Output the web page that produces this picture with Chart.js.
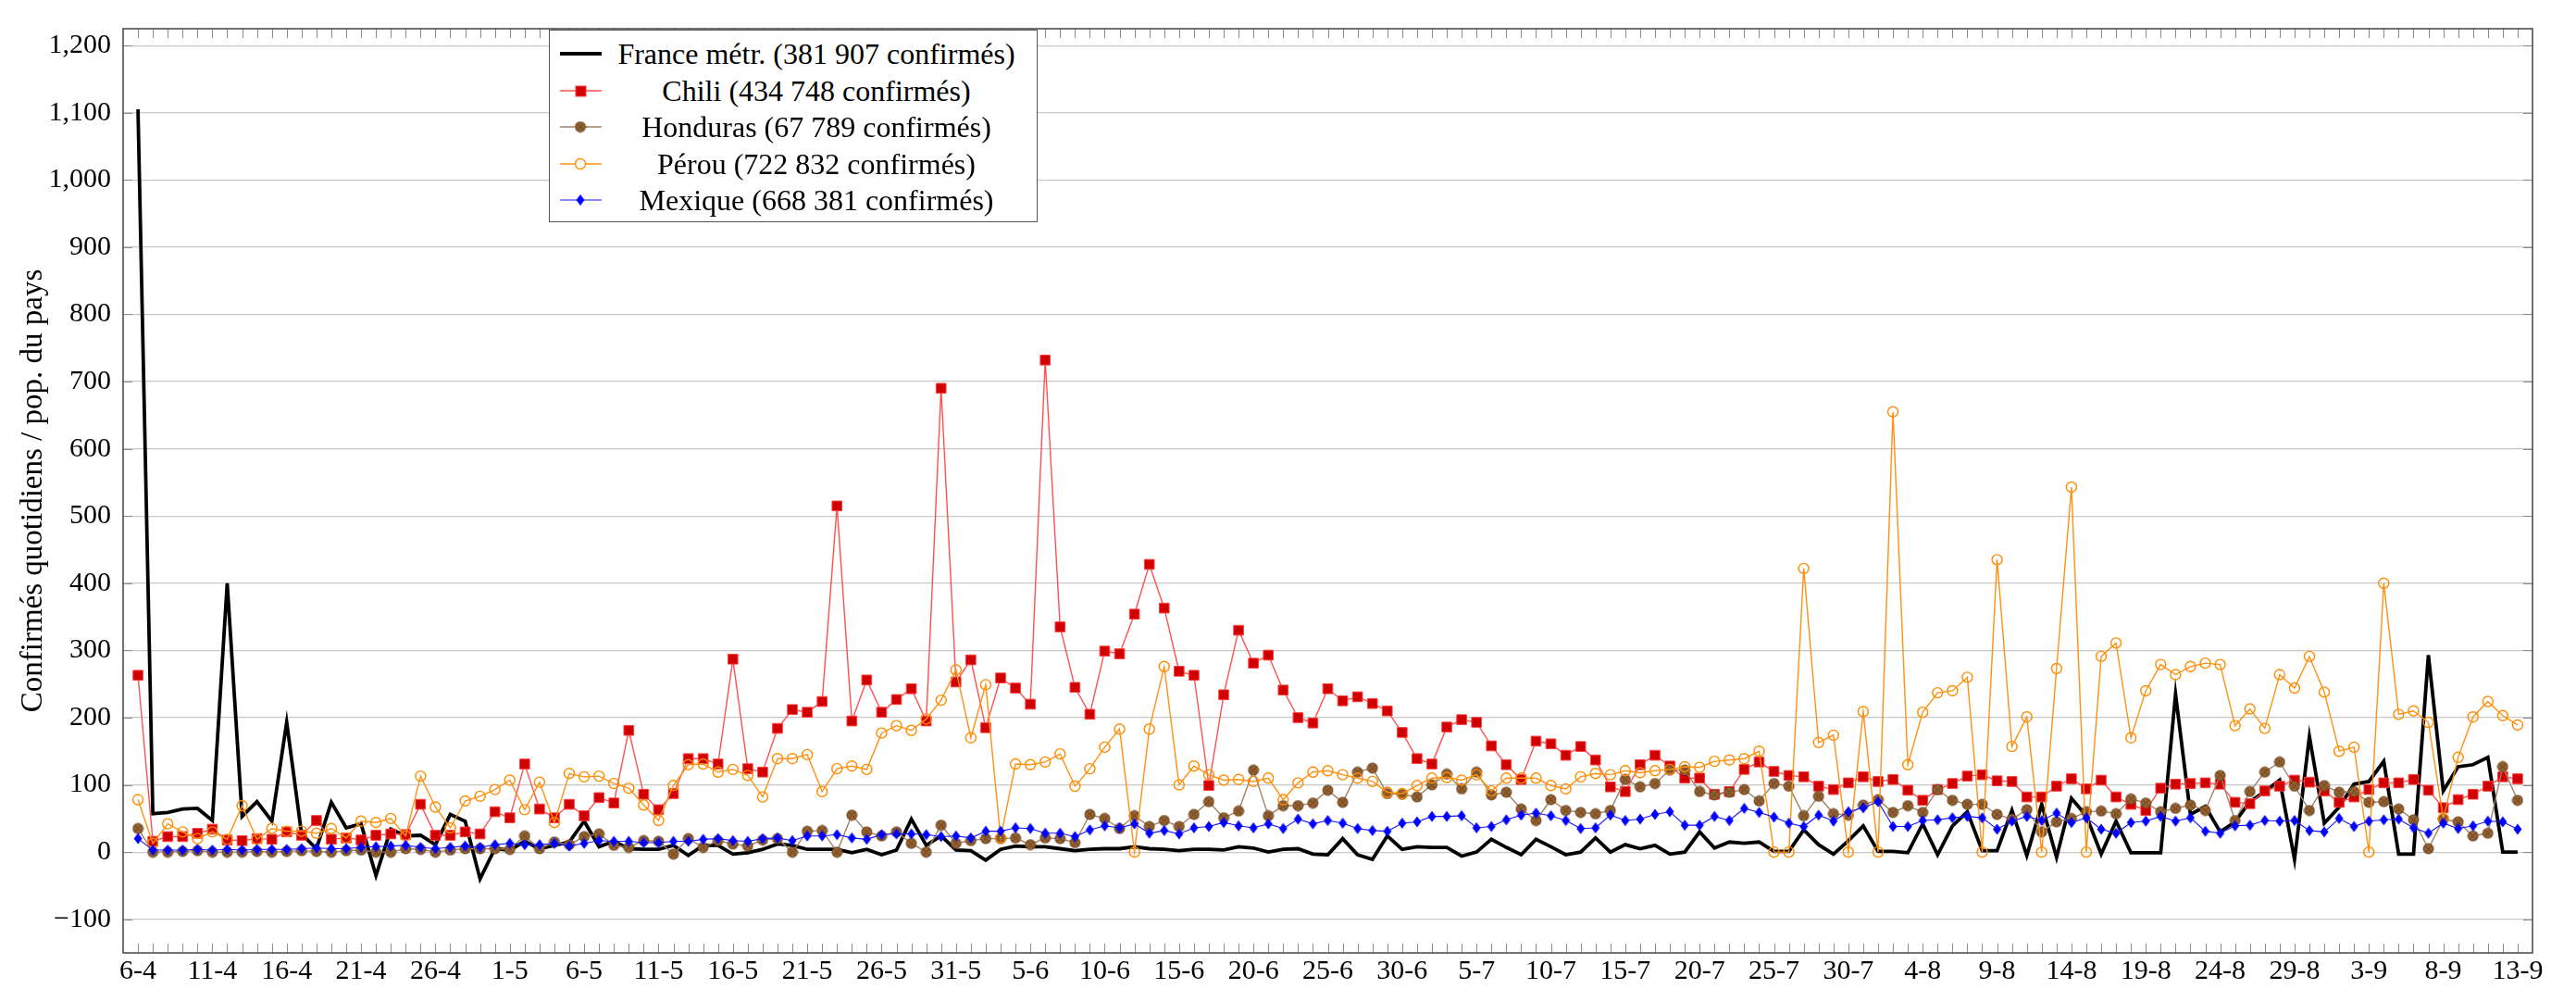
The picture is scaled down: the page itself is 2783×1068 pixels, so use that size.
<!DOCTYPE html>
<html>
<head>
<meta charset="utf-8">
<script src="https://cdn.jsdelivr.net/npm/chart.js@4.4.0/dist/chart.umd.min.js"></script>
<style>
  body { margin: 0; background: #fff; }
  #wrap { position: relative; width: 2783px; height: 1068px; }
  #legend {
    position: absolute; left: 593px; top: 32px; width: 526px; height: 206px;
    border: 1.5px solid #555; background: #fff;
    font-family: 'Liberation Serif', serif; font-size: 32px; color: #000;
  }
  .row { position: absolute; left: 0; width: 100%; height: 40px; }
  .row canvas { position: absolute; left: 8px; top: 0; }
  .row span { position: absolute; left: 60px; right: 10px; text-align: center; line-height: 40px; white-space: nowrap; }
</style>
</head>
<body>
<div id="wrap">
  <canvas id="chart" width="2783" height="1068"></canvas>
  <div id="legend"></div>
</div>
<script>
// tick labels, one every 5 days starting 6 April
const tickLabels = ['6-4', '11-4', '16-4', '21-4', '26-4', '1-5', '6-5', '11-5', '16-5', '21-5',
  '26-5', '31-5', '5-6', '10-6', '15-6', '20-6', '25-6', '30-6', '5-7', '10-7',
  '15-7', '20-7', '25-7', '30-7', '4-8', '9-8', '14-8', '19-8', '24-8', '29-8',
  '3-9', '8-9', '13-9'];

// y tick values
const yTicks = [-100, 0, 100, 200, 300, 400, 500, 600, 700, 800, 900, 1000, 1100, 1200];

// daily values, 6-4 .. 13-9 (161 days)
const france = [
  1105, 57, 59, 64, 65, 47, 400, 53, 75, 46,
  193, 27, 5, 74, 36, 42, -35, 34, 24, 25,
  11, 56, 46, -40, 5, 3, 16, 5, 10, 15,
  46, 8, 16, 5, 4, 4, 10, -5, 10, 10,
  -3, -1, 4, 12, 10, 4, 4, 4, -1, 4,
  -4, 3, 49, 10, 24, 3, 2, -12, 4, 9,
  8, 8, 5, 2, 4, 5, 5, 8, 5, 4,
  2, 4, 4, 3, 8, 6, 0, 4, 5, -3,
  -4, 20, -4, -11, 24, 4, 8, 7, 7, -6,
  0, 19, 7, -4, 19, 8, -4, 0, 21, 0,
  11, 5, 10, -3, 0, 30, 6, 15, 13, 15,
  1, 1, 33, 11, -3, 17, 39, 1, 1, -1,
  42, -4, 39, 60, 2, 2, 62, -5, 71, -8,
  80, 54, -3, 46, -1, -1, -1, 235, 56, 68,
  30, 45, 75, 90, 107, -11, 172, 43, 67, 101,
  105, 135, -3, -3, 293, 91, 127, 130, 141, 0,
  0];

const chili = [
  263, 16, 23, 23, 28, 34, 18, 17, 20, 19,
  30, 25, 47, 19, 21, 18, 25, 27, 26, 71,
  25, 25, 30, 27, 60, 51, 131, 64, 51, 71,
  54, 81, 73, 181, 86, 63, 87, 139, 139, 131,
  287, 124, 119, 184, 212, 208, 224, 515, 195, 256,
  208, 227, 243, 195, 690, 253, 286, 185, 259, 244,
  220, 732, 335, 245, 205, 299, 295, 354, 428, 363,
  269, 263, 99, 234, 330, 281, 293, 241, 200, 192,
  243, 225, 231, 221, 210, 178, 139, 131, 186, 197,
  193, 158, 130, 108, 165, 161, 144, 157, 137, 97,
  90, 130, 144, 128, 110, 110, 86, 90, 123, 134,
  120, 114, 112, 98, 93, 103, 112, 105, 108, 92,
  77, 93, 102, 113, 115, 106, 105, 82, 82, 98,
  109, 94, 107, 82, 71, 62, 95, 101, 102, 103,
  101, 74, 72, 91, 98, 107, 104, 91, 74, 82,
  93, 103, 103, 108, 92, 66, 78, 86, 98, 112,
  109];

const honduras = [
  35, 0, 0, 1, 2, 0, 0, 0, 1, 0,
  1, 2, 1, 0, 2, 3, 0, 0, 5, 4,
  0, 3, 5, 5, 5, 4, 24, 5, 15, 11,
  23, 27, 10, 7, 17, 16, -3, 20, 7, 17,
  12, 9, 18, 20, 0, 31, 32, 0, 55, 30,
  24, 30, 13, 0, 40, 13, 17, 20, 20, 21,
  11, 21, 20, 14, 56, 50, 35, 54, 38, 47,
  38, 56, 75, 51, 61, 122, 54, 69, 69, 73,
  92, 74, 119, 125, 87, 86, 82, 100, 116, 94,
  119, 85, 89, 64, 47, 78, 62, 59, 57, 62,
  108, 97, 102, 122, 122, 90, 85, 89, 93, 76,
  102, 98, 54, 83, 57, 55, 70, 78, 59, 69,
  59, 93, 77, 71, 71, 56, 49, 63, 30, 45,
  50, 60, 61, 57, 79, 73, 60, 65, 70, 62,
  114, 47, 90, 119, 134, 98, 62, 99, 89, 90,
  74, 75, 64, 48, 5, 49, 45, 24, 28, 127,
  77];

const perou = [
  78, 13, 42, 30, 20, 30, 19, 69, 19, 35,
  31, 31, 28, 35, 21, 46, 44, 50, 24, 113,
  67, 36, 76, 83, 93, 107, 63, 104, 44, 117,
  112, 113, 102, 95, 70, 47, 99, 130, 131, 119,
  123, 114, 82, 139, 139, 145, 90, 124, 128, 123,
  177, 188, 181, 198, 226, 271, 170, 249, 21, 131,
  130, 134, 146, 98, 124, 156, 183, 0, 183, 276,
  100, 128, 115, 107, 108, 105, 110, 78, 103, 119,
  121, 115, 110, 105, 89, 87, 99, 110, 111, 107,
  115, 91, 110, 110, 110, 99, 94, 112, 117, 115,
  121, 118, 121, 123, 127, 126, 135, 137, 139, 150,
  0, 0, 422, 163, 174, 0, 209, 0, 655, 130,
  208, 237, 240, 260, 0, 435, 157, 201, 0, 273,
  543, 0, 291, 311, 170, 240, 279, 264, 276, 281,
  279, 188, 213, 184, 264, 244, 291, 238, 150, 156,
  0, 400, 205, 210, 193, 50, 141, 201, 224, 203,
  189];

const mexique = [
  20, 3, 3, 3, 4, 3, 4, 3, 4, 4,
  4, 5, 6, 5, 5, 7, 8, 9, 10, 7,
  5, 7, 9, 7, 11, 13, 11, 11, 13, 9,
  13, 17, 16, 16, 14, 14, 16, 16, 19, 20,
  17, 16, 20, 21, 17, 24, 24, 26, 21, 19,
  26, 27, 27, 26, 23, 24, 21, 31, 31, 36,
  35, 28, 28, 23, 33, 39, 36, 42, 28, 32,
  27, 36, 38, 44, 39, 36, 42, 35, 49, 42,
  47, 43, 35, 32, 31, 43, 45, 53, 53, 54,
  36, 38, 48, 55, 58, 54, 47, 35, 36, 55,
  47, 49, 56, 60, 40, 40, 53, 47, 65, 59,
  52, 43, 38, 55, 46, 60, 66, 75, 38, 38,
  47, 48, 51, 53, 51, 34, 46, 53, 47, 58,
  44, 51, 34, 28, 44, 46, 53, 46, 51, 31,
  28, 39, 40, 47, 46, 47, 32, 30, 50, 38,
  46, 48, 49, 36, 28, 43, 35, 39, 46, 45,
  34];

const seriesNames = [
  'France métr. (381 907 confirmés)',
  'Chili (434 748 confirmés)',
  'Honduras (67 789 confirmés)',
  'Pérou (722 832 confirmés)',
  'Mexique (668 381 confirmés)'
];

// pgfplots-like marks that Chart.js doesn't have
function otimesMark() {
  const c = document.createElement('canvas');
  c.width = 13; c.height = 13;
  const g = c.getContext('2d');
  g.beginPath(); g.arc(6.5, 6.5, 5.5, 0, Math.PI * 2);
  g.fillStyle = '#93602f'; g.fill();
  g.lineWidth = 1; g.strokeStyle = '#6a4220'; g.stroke();
  g.beginPath();
  g.moveTo(2.6, 2.6); g.lineTo(10.4, 10.4);
  g.moveTo(10.4, 2.6); g.lineTo(2.6, 10.4);
  g.stroke();
  return c;
}
function diamondMark() {
  const c = document.createElement('canvas');
  c.width = 10; c.height = 13;
  const g = c.getContext('2d');
  g.beginPath();
  g.moveTo(5, 0.5); g.lineTo(9.5, 6.5); g.lineTo(5, 12.5); g.lineTo(0.5, 6.5);
  g.closePath();
  g.fillStyle = '#0000ff'; g.fill();
  return c;
}

const toXY = arr => arr.map((v, i) => ({ x: i, y: v }));
const hondMark = otimesMark();
const diaMark = diamondMark();

const datasets = [
  { label: seriesNames[0], data: toXY(france), borderColor: '#000', borderWidth: 3.8,
    pointRadius: 0, order: 5 },
  { label: seriesNames[1], data: toXY(chili), borderColor: 'rgb(255,80,80)', borderWidth: 1.4,
    pointStyle: 'rect', pointRadius: 7.5, pointBackgroundColor: '#d00000',
    pointBorderColor: 'rgb(255,60,60)', pointBorderWidth: 1, order: 4 },
  { label: seriesNames[2], data: toXY(honduras), borderColor: 'rgb(160,130,100)', borderWidth: 1.4,
    pointStyle: hondMark, pointRadius: 5, order: 3 },
  { label: seriesNames[3], data: toXY(perou), borderColor: 'rgb(255,145,20)', borderWidth: 1.4,
    pointStyle: 'circle', pointRadius: 5.5, pointBackgroundColor: 'rgba(0,0,0,0)',
    pointBorderColor: 'rgb(255,140,0)', pointBorderWidth: 1.4, order: 2 },
  { label: seriesNames[4], data: toXY(mexique), borderColor: 'rgb(20,20,255)', borderWidth: 1.1,
    pointStyle: diaMark, pointRadius: 5, order: 1 }
];
datasets.forEach(d => { d.fill = false; d.tension = 0; d.pointHoverRadius = d.pointRadius; });

// frame + small inward ticks like pgfplots
const framePlugin = {
  id: 'frame',
  afterDatasetsDraw(chart) {
    const { ctx, chartArea: a, scales: { x, y } } = chart;
    ctx.save();
    ctx.strokeStyle = '#8a8a8a';
    ctx.lineWidth = 1;
    ctx.beginPath();
    for (let d = 0; d <= 160; d++) {
      const px = Math.round(x.getPixelForValue(d)) + 0.5;
      ctx.moveTo(px, a.bottom); ctx.lineTo(px, a.bottom - 10);
      ctx.moveTo(px, a.top); ctx.lineTo(px, a.top + 10);
    }
    yTicks.forEach(v => {
      const py = Math.round(y.getPixelForValue(v)) + 0.5;
      ctx.moveTo(a.left, py); ctx.lineTo(a.left + 10, py);
      ctx.moveTo(a.right, py); ctx.lineTo(a.right - 10, py);
    });
    ctx.stroke();
    ctx.strokeStyle = '#444';
    ctx.lineWidth = 1.5;
    ctx.strokeRect(a.left, a.top, a.right - a.left, a.bottom - a.top);
    ctx.restore();
  }
};

Chart.defaults.color = '#000';
Chart.defaults.font.family = "'Liberation Serif', serif";

new Chart(document.getElementById('chart'), {
  type: 'line',
  data: { datasets },
  options: {
    responsive: false,
    devicePixelRatio: 1,
    animation: false,
    layout: { padding: { left: 0, top: 11, right: 47, bottom: 0 } },
    plugins: { legend: { display: false }, tooltip: { enabled: false } },
    scales: {
      x: {
        type: 'linear', min: -1, max: 161,
        afterBuildTicks: s => { s.ticks = tickLabels.map((_, i) => ({ value: i * 5 })); },
        afterFit: s => { s.height = 39; },
        grid: { display: false, drawTicks: false },
        border: { display: false },
        ticks: { autoSkip: false, maxRotation: 0, padding: 2, font: { size: 30 },
          callback: (v, i) => tickLabels[i] }
      },
      y: {
        min: -150, max: 1225,
        afterBuildTicks: s => { s.ticks = yTicks.map(v => ({ value: v })); },
        afterFit: s => { s.width = 133; },
        grid: { color: '#c8c8c8', lineWidth: 1.2, drawTicks: false },
        border: { display: false },
        ticks: { autoSkip: false, padding: 13, font: { size: 30 },
          callback: v => v.toLocaleString('en-US').replace('-', '\u2212') },
        title: { display: true, text: 'Confirmés quotidiens / pop. du pays',
          font: { size: 33 }, padding: { top: 17 } }
      }
    }
  },
  plugins: [framePlugin]
});

// legend box, placed inside the plot like the original
function sample(ds, i) {
  const c = document.createElement('canvas');
  c.width = 50; c.height = 40;
  const g = c.getContext('2d');
  g.strokeStyle = ds.borderColor;
  g.lineWidth = i === 0 ? 3.8 : ds.borderWidth;
  g.beginPath(); g.moveTo(3, 20); g.lineTo(48, 20); g.stroke();
  if (ds.pointStyle && typeof ds.pointStyle === 'object') {
    g.drawImage(ds.pointStyle, 25 - ds.pointStyle.width / 2, 20 - ds.pointStyle.height / 2);
  } else if (ds.pointStyle === 'rect') {
    g.fillStyle = ds.pointBackgroundColor; g.fillRect(20, 15, 11, 11);
    g.strokeStyle = ds.pointBorderColor; g.lineWidth = 1; g.strokeRect(20, 15, 11, 11);
  } else if (ds.pointStyle === 'circle') {
    g.beginPath(); g.arc(25, 20, 5.5, 0, Math.PI * 2);
    g.fillStyle = '#fff'; g.fill();
    g.strokeStyle = ds.pointBorderColor; g.lineWidth = 1.4; g.stroke();
  }
  return c;
}
const legend = document.getElementById('legend');
datasets.forEach((ds, i) => {
  const row = document.createElement('div');
  row.className = 'row';
  row.style.top = (5 + i * 39.5) + 'px';
  row.appendChild(sample(ds, i));
  const t = document.createElement('span');
  t.textContent = ds.label;
  row.appendChild(t);
  legend.appendChild(row);
});
</script>
</body>
</html>
